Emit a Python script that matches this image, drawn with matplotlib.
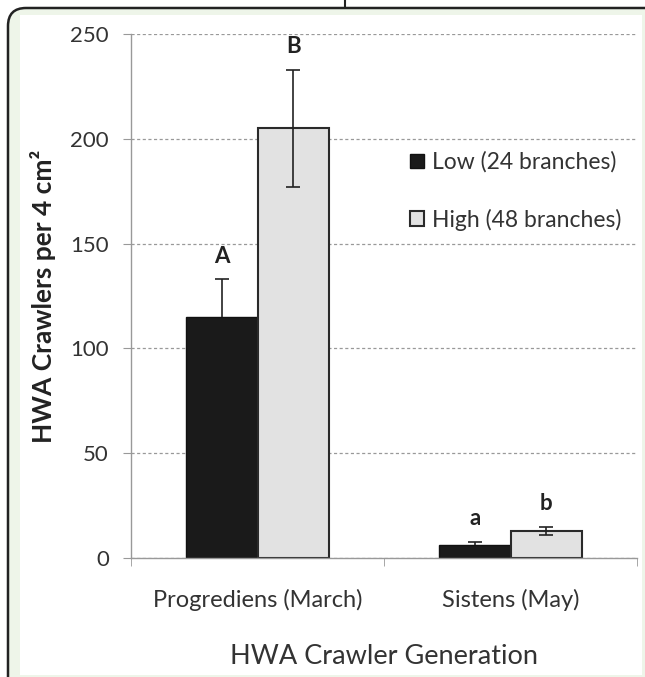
import matplotlib.pyplot as plt
from matplotlib.patches import FancyBboxPatch, Rectangle
import numpy as np

plt.rcParams['font.family'] = ['Lato', 'DejaVu Sans']

# data
generations = ['Progrediens (March)', 'Sistens (May)']
low_mean = [115, 6]
low_err = [18, 1.7]
high_mean = [205, 13]
high_err = [28, 1.8]
low_letters = ['A', 'a']
high_letters = ['B', 'b']
series_names = ['Low (24 branches)', 'High (48 branches)']

fig = plt.figure(figsize=(6.45, 6.77), dpi=100)

# page frame around the figure
frame = FancyBboxPatch((0.08, -0.6), 7.0, 6.69 + 0.6,
                       boxstyle='round,pad=0,rounding_size=0.18',
                       transform=fig.dpi_scale_trans, facecolor='#eef5e9',
                       edgecolor='#222222', linewidth=1.8, zorder=-10)
fig.add_artist(frame)
inner = Rectangle((0.20, 0.02), 6.22, 6.60, transform=fig.dpi_scale_trans,
                  facecolor='white', edgecolor='none', zorder=-9)
fig.add_artist(inner)
fig.add_artist(plt.Line2D([3.45, 3.45], [6.70, 6.77], transform=fig.dpi_scale_trans,
                          color='#222222', linewidth=1.5))

ax = fig.add_axes([0.2031, 0.1758, 0.7845, 0.774])
ax.set_facecolor('none')

x = np.arange(len(generations))
w = 0.283
low_x = x - w / 2
high_x = x + w / 2
low_mean = np.array(low_mean)
low_err = np.array(low_err)
ax.bar(low_x, low_mean, w, color='#1a1a1a', edgecolor='#111111',
       linewidth=1.0, label=series_names[0], zorder=2)
ax.bar(high_x, high_mean, w, color='#e2e2e2', edgecolor='#2a2a2a',
       linewidth=1.5, label=series_names[1], zorder=2)
# low bars only show the upper half of the error bar (top cap only)
ax.errorbar(low_x, low_mean, yerr=[np.zeros(len(low_err)), low_err], fmt='none',
            ecolor='#222222', elinewidth=1.2, capsize=0, zorder=3)
ax.plot(low_x, low_mean + low_err, linestyle='none', marker='_', markersize=10,
        markeredgewidth=1.2, color='#222222', zorder=3)
ax.errorbar(high_x, high_mean, yerr=high_err, fmt='none', ecolor='#222222',
            elinewidth=1.2, capsize=5, capthick=1.2, zorder=3)

for i in range(len(generations)):
    ax.text(low_x[i], low_mean[i] + low_err[i] + 6, low_letters[i],
            ha='center', va='bottom', fontsize=16, fontweight='bold', color='#222222')
    ax.text(high_x[i], high_mean[i] + high_err[i] + 6, high_letters[i],
            ha='center', va='bottom', fontsize=16, fontweight='bold', color='#222222')

ax.set_xlim(-0.5, 1.5)
ax.set_ylim(0, 250)
ax.set_yticks(np.arange(0, 251, 50))
ax.yaxis.grid(True, linestyle=(0, (2.5, 2)), color='#999999', linewidth=0.9, zorder=0)
ax.set_axisbelow(True)

ax.set_xticks(x)
ax.set_xticklabels(generations, fontsize=17, color='#333333')
ax.set_xticks([-0.5, 0.5, 1.5], minor=True)
ax.tick_params(axis='x', which='major', length=0, pad=22)
ax.tick_params(axis='x', which='minor', length=6, color='#999999', direction='out')
ax.tick_params(axis='y', length=6, color='#999999', labelsize=16, labelcolor='#333333', pad=10)

for s in ['top', 'right']:
    ax.spines[s].set_visible(False)
for s in ['left', 'bottom']:
    ax.spines[s].set_color('#999999')
    ax.spines[s].set_linewidth(1.0)

ax.set_ylabel('HWA Crawlers per 4 cm²', fontsize=19, fontweight='bold',
              color='#222222', labelpad=10)
ax.set_xlabel('HWA Crawler Generation', fontsize=19.5, color='#333333', labelpad=24)

leg = ax.legend(loc='upper right', bbox_to_anchor=(1.01, 0.815), frameon=False,
                fontsize=16.5, handlelength=0.6, handleheight=0.6, handletextpad=0.35,
                labelspacing=1.55, labelcolor='#333333')

fig.savefig('out.png', dpi=100)
